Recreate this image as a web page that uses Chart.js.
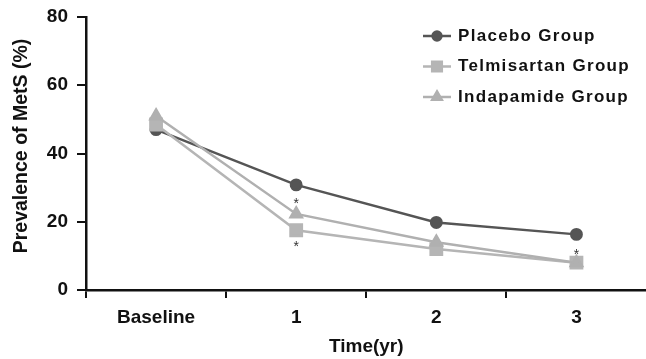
<!DOCTYPE html>
<html>
<head>
<meta charset="utf-8">
<script src="https://cdn.jsdelivr.net/npm/chart.js@4/dist/chart.umd.min.js"></script>
<style>
  html, body { margin: 0; padding: 0; background: #fff; overflow: hidden; }
  #wrap { width: 646px; height: 359px; overflow: hidden; }
</style>
</head>
<body>
<div id="wrap"><canvas id="metsChart" width="657" height="359"></canvas></div>
<script>
// time points
const timeLabels = ['Baseline', '1', '2', '3'];

// prevalence of MetS (%) per group
const placeboValues = [47, 30.8, 19.8, 16.3];
const telmisartanValues = [48.5, 17.5, 12, 8];
const indapamideValues = [51, 22.3, 14, 8];

// significance asterisks: [category index, value]
const sigMarks = [[1, 26], [1, 13.3], [3, 11.2]];

const FONT = "'Liberation Sans', Arial, sans-serif";

// legend drawn with a line sample and a marker, like the original figure
const lineLegend = {
    id: 'lineLegend',
    afterDraw(chart) {
        const ctx = chart.ctx;
        ctx.save();
        chart.data.datasets.forEach((ds, i) => {
            const y = 36 + i * 30.5;
            ctx.strokeStyle = ds.borderColor;
            ctx.lineWidth = 2.5;
            ctx.beginPath();
            ctx.moveTo(423, y);
            ctx.lineTo(451, y);
            ctx.stroke();
            Chart.helpers.drawPoint(ctx, {
                pointStyle: ds.pointStyle,
                radius: ds.pointRadius * 0.85,
                rotation: 0,
                borderWidth: 1
            }, 437, y);
            ctx.fillStyle = ds.borderColor;
            ctx.fill();
            ctx.fillStyle = '#111';
            ctx.font = 'bold 17px ' + FONT;
            ctx.letterSpacing = '1.3px';
            ctx.textBaseline = 'middle';
            ctx.fillText(ds.label, 458, y);
        });
        ctx.restore();
    }
};

// asterisks + y axis title (placed a bit above the axis centre, as in the figure)
const extras = {
    id: 'extras',
    afterDatasetsDraw(chart) {
        const ctx = chart.ctx;
        const x = chart.scales.x, y = chart.scales.y;
        ctx.save();
        ctx.fillStyle = '#333';
        ctx.font = '14px ' + FONT;
        ctx.textAlign = 'center';
        ctx.textBaseline = 'middle';
        sigMarks.forEach(m => {
            ctx.fillText('*', x.getPixelForValue(m[0]), y.getPixelForValue(m[1]) + 3);
        });
        ctx.translate(22, 146);
        ctx.rotate(-Math.PI / 2);
        ctx.fillStyle = '#111';
        ctx.font = 'bold 19.5px ' + FONT;
        ctx.fillText('Prevalence of MetS (%)', 0, 0);
        ctx.restore();
    }
};

const config = {
    type: 'line',
    data: {
        labels: timeLabels,
        datasets: [{
            label: 'Placebo Group',
            data: placeboValues,
            borderColor: '#555555',
            backgroundColor: '#555555',
            pointStyle: 'circle',
            pointRadius: 5.2,
            borderWidth: 2.5,
            order: 3
        }, {
            label: 'Telmisartan Group',
            data: telmisartanValues,
            borderColor: '#b5b5b5',
            backgroundColor: '#b5b5b5',
            pointStyle: 'rect',
            pointRadius: 8,
            borderWidth: 2.5,
            order: 2
        }, {
            label: 'Indapamide Group',
            data: indapamideValues,
            borderColor: '#b0b0b0',
            backgroundColor: '#b0b0b0',
            pointStyle: 'triangle',
            pointRadius: 6.5,
            borderWidth: 2.5,
            order: 1
        }]
    },
    options: {
        responsive: false,
        animation: false,
        layout: { padding: { left: 0, top: 17, right: 0, bottom: 0 } },
        plugins: {
            legend: { display: false },
            tooltip: { enabled: false }
        },
        scales: {
            x: {
                offset: true,
                grid: { offset: true, drawOnChartArea: false, color: '#111', lineWidth: 2, tickLength: 8 },
                border: { color: '#111', width: 2.5 },
                ticks: { color: '#111', padding: 8, font: { family: FONT, size: 19, weight: 'bold' } },
                title: { display: true, text: 'Time(yr)', color: '#111', padding: { top: 4, bottom: 1 },
                         font: { family: FONT, size: 19, weight: 'bold' } },
                afterFit(scale) {
                    scale.height = 69;
                    scale.paddingLeft = 0;
                    scale.paddingRight = 0;
                }
            },
            y: {
                min: 0,
                max: 80,
                ticks: { stepSize: 20, color: '#111', padding: 9, font: { family: FONT, size: 19, weight: 'bold' } },
                grid: { drawOnChartArea: false, color: '#111', lineWidth: 2, tickLength: 9 },
                border: { color: '#111', width: 2.5 },
                afterFit(scale) {
                    scale.width = 86;
                    scale.paddingTop = 0;
                    scale.paddingBottom = 0;
                }
            }
        }
    },
    plugins: [lineLegend, extras]
};

new Chart(document.getElementById('metsChart').getContext('2d'), config);
</script>
</body>
</html>
